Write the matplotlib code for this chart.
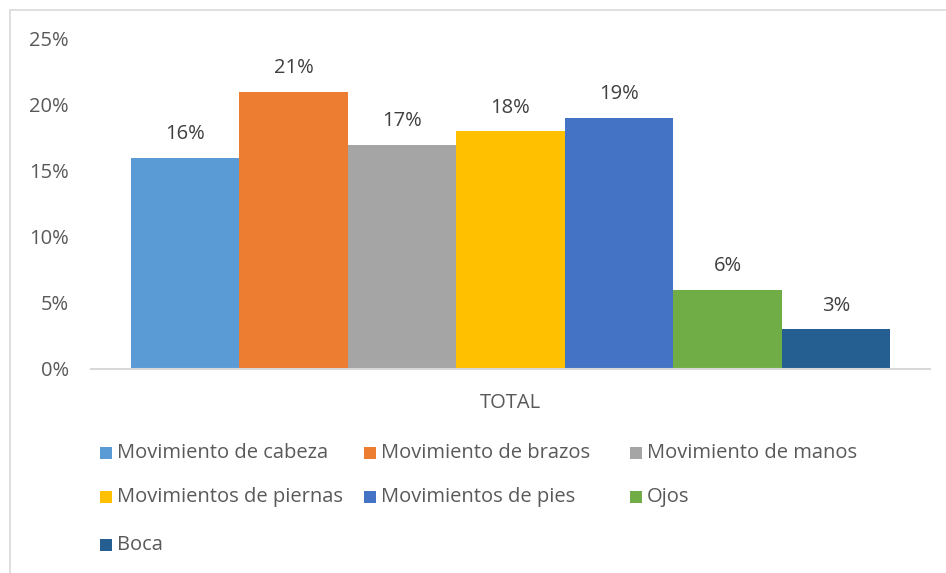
import numpy as np
import matplotlib.pyplot as plt
from matplotlib.patches import Rectangle

plt.rcParams['font.family'] = ['Open Sans', 'DejaVu Sans']

series = ['Movimiento de cabeza', 'Movimiento de brazos', 'Movimiento de manos',
          'Movimientos de piernas', 'Movimientos de pies', 'Ojos', 'Boca']
values = [16, 21, 17, 18, 19, 6, 3]
colors = ['#5B9BD5', '#ED7D31', '#A5A5A5', '#FFC000', '#4472C4', '#70AD47', '#255E91']
category = 'TOTAL'
yticks = [0, 5, 10, 15, 20, 25]

text_col = '#595959'
fs = 14.5
W, H = 946, 573
fig = plt.figure(figsize=(W / 100, H / 100), dpi=100)

# chart border
fig.patches.append(Rectangle((10 / W, -0.01), 1.0, 1 - 10 / H + 0.01, transform=fig.transFigure,
                             fill=False, edgecolor='#D9D9D9', linewidth=1.2))

ax = fig.add_axes([91 / W, 1 - 369 / H, (930 - 91) / W, (369 - 39) / H])

n = len(values)
group = 0.905
bw = group / n
xs = -group / 2 + bw / 2 + np.arange(n) * bw
bars = ax.bar(xs, values, width=bw, color=colors, linewidth=0)

for b, v in zip(bars, values):
    ax.annotate(f'{v}%', (b.get_x() + b.get_width() / 2, v), xytext=(0, 10),
                textcoords='offset points', ha='center', va='bottom',
                fontsize=fs, color='#404040')

ax.set_xlim(-0.5, 0.5)
ax.set_ylim(0, 25)
ax.set_yticks(yticks)
ax.set_yticklabels([f'{t}%' for t in yticks])
ax.set_xticks([0])
ax.set_xticklabels([category])
ax.tick_params(axis='y', length=0, pad=16, labelsize=fs, labelcolor=text_col)
ax.tick_params(axis='x', length=0, pad=17, labelsize=fs, labelcolor=text_col)
for s in ['top', 'right', 'left']:
    ax.spines[s].set_visible(False)
ax.spines['bottom'].set_color('#D9D9D9')
ax.spines['bottom'].set_linewidth(1.5)

# legend laid out like the spreadsheet one: 3 fixed-width columns
col_x = [100, 364, 630]
row_y = [453, 497, 545]
for i, (name, c) in enumerate(zip(series, colors)):
    x = col_x[i % 3]
    y = row_y[i // 3]
    fig.patches.append(Rectangle((x / W, 1 - (y + 6) / H), 12 / W, 12 / H,
                                 transform=fig.transFigure, color=c, linewidth=0))
    fig.text((x + 17) / W, 1 - y / H, name, fontsize=fs, color=text_col, va='center', ha='left')

fig.savefig('out.png', dpi=100)
